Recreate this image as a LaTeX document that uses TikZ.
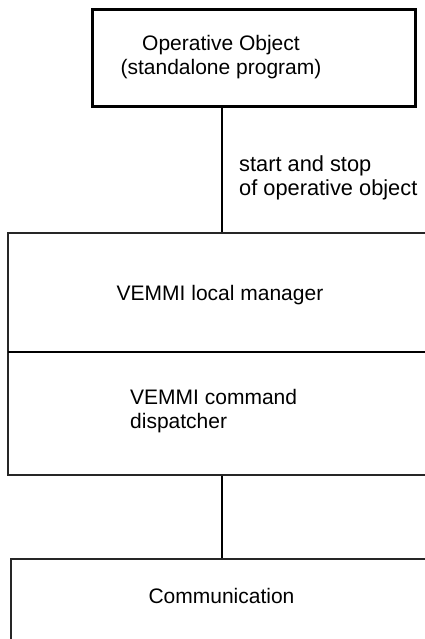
\documentclass[tikz,border=0pt]{standalone}
\usepackage{fontspec}
\setmainfont{Liberation Sans}
\begin{document}
\begin{tikzpicture}[x=1pt,y=-1pt,
  txt/.style={font=\fontsize{21}{24}\selectfont, inner sep=0pt},
  thickbox/.style={draw=black, line width=3pt, inner sep=0pt},
  thinbox/.style={draw=black!85, line width=1.3pt, inner sep=0pt},
  conn/.style={draw=black, line width=2pt}]
\useasboundingbox (0,0) rectangle (425,639);
% boxes
\node[thickbox, minimum width=323pt, minimum height=97pt] (top) at (253.5,58.5) {};
\node[thinbox, minimum width=440pt, minimum height=242pt] (mid) at (228,354) {};
\node[thinbox, minimum width=440pt, minimum height=120pt] (bot) at (231,619) {};
% divider in the middle box
\coordinate (dl) at (8,352);
\draw[black, line width=1.2pt] (dl) -- (dl -| mid.east);
% connector axis
\coordinate (ax) at (222,0);
\draw[conn] (top.south -| ax) -- (mid.north -| ax);
\draw[conn] (mid.south -| ax) -- (bot.north -| ax);
% texts
\node[txt, align=center] (ttop) at (221,57) {Operative Object\\(standalone program)};
\node[txt, font=\fontsize{21.8}{23.5}\selectfont, align=left, anchor=west] (lbl) at (239,178) {start and stop\\of operative object};
\node[txt, anchor=base] (tmgr) at (220,300) {VEMMI local manager};
\node[txt, align=left, anchor=west] (tdisp) at (130,411) {VEMMI command\\dispatcher};
\node[txt, anchor=base] (tcom) at (221.5,603) {Communication};
\end{tikzpicture}
\end{document}
